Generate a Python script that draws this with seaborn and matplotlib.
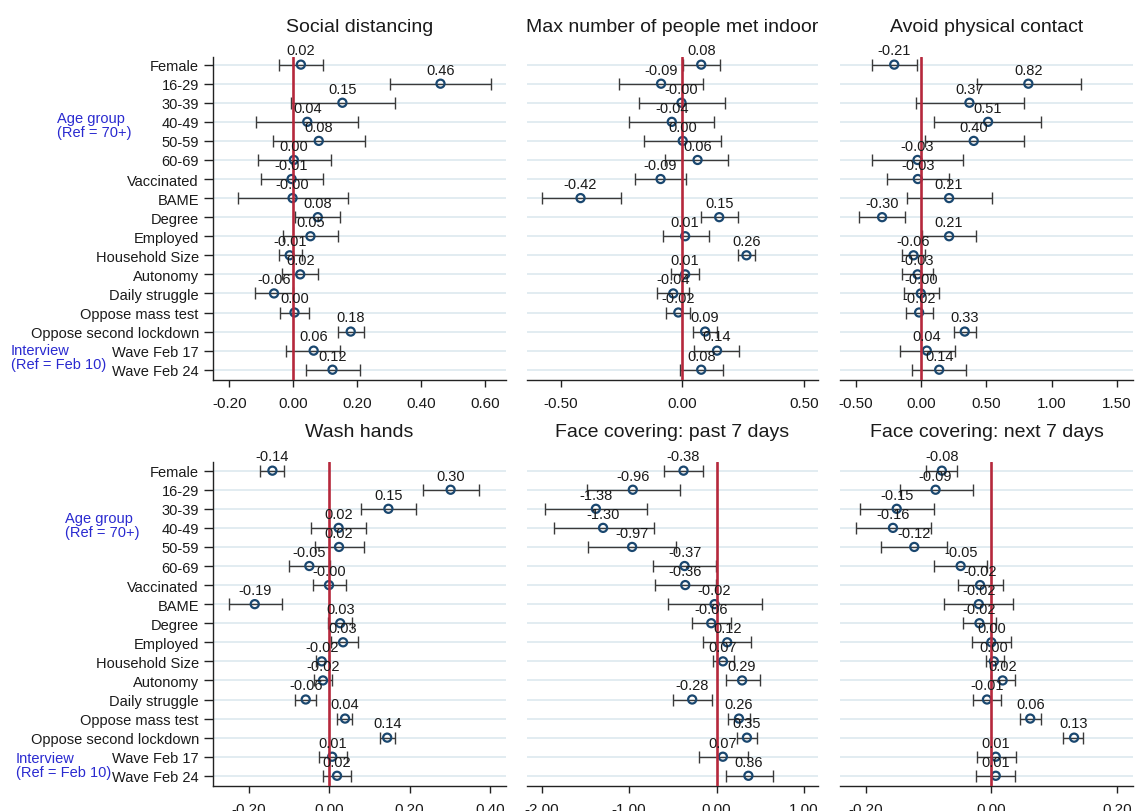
import numpy as np
import pandas as pd
import matplotlib
matplotlib.use("Agg")
import matplotlib.pyplot as plt
import seaborn as sns

# ---- regression estimates (coefficient, lower CI, upper CI) ----
variables = ["Female", "16-29", "30-39", "40-49", "50-59", "60-69", "Vaccinated",
             "BAME", "Degree", "Employed", "Household Size", "Autonomy",
             "Daily struggle", "Oppose mass test", "Oppose second lockdown",
             "Wave Feb 17", "Wave Feb 24"]

outcomes = ["Social distancing", "Max number of people met indoor",
            "Avoid physical contact", "Wash hands",
            "Face covering: past 7 days", "Face covering: next 7 days"]

social_coef = [0.024, 0.461, 0.154, 0.044, 0.080, 0.002, -0.005, -0.002, 0.077,
               0.054, -0.011, 0.022, -0.060, 0.004, 0.180, 0.064, 0.123]
social_lo = [-0.045, 0.304, -0.006, -0.117, -0.062, -0.111, -0.102, -0.174, 0.005,
             -0.031, -0.045, -0.036, -0.120, -0.042, 0.140, -0.021, 0.041]
social_hi = [0.094, 0.619, 0.318, 0.204, 0.224, 0.118, 0.093, 0.170, 0.147,
             0.139, 0.026, 0.078, 0.000, 0.050, 0.223, 0.146, 0.208]

indoor_coef = [0.078, -0.087, -0.003, -0.043, 0.002, 0.063, -0.089, -0.418, 0.152,
               0.012, 0.264, 0.012, -0.037, -0.016, 0.094, 0.143, 0.078]
indoor_lo = [0.003, -0.261, -0.176, -0.220, -0.158, -0.069, -0.196, -0.578, 0.076,
             -0.077, 0.228, -0.047, -0.104, -0.066, 0.045, 0.049, -0.011]
indoor_hi = [0.154, 0.085, 0.174, 0.130, 0.158, 0.188, 0.014, -0.253, 0.231,
             0.108, 0.301, 0.069, 0.026, 0.033, 0.144, 0.232, 0.169]

contact_coef = [-0.207, 0.822, 0.370, 0.513, 0.403, -0.028, -0.026, 0.214, -0.300,
                0.214, -0.059, -0.028, -0.003, -0.016, 0.334, 0.043, 0.138]
contact_lo = [-0.375, 0.426, -0.043, 0.102, 0.028, -0.375, -0.263, -0.112, -0.474,
              0.003, -0.145, -0.145, -0.135, -0.115, 0.255, -0.166, -0.071]
contact_hi = [-0.033, 1.224, 0.786, 0.918, 0.786, 0.321, 0.214, 0.543, -0.125,
              0.421, 0.028, 0.089, 0.138, 0.089, 0.418, 0.258, 0.342]

hands_coef = [-0.142, 0.302, 0.147, 0.023, 0.024, -0.050, -0.001, -0.186, 0.027,
              0.034, -0.019, -0.016, -0.059, 0.039, 0.144, 0.007, 0.019]
hands_lo = [-0.173, 0.232, 0.079, -0.046, -0.037, -0.100, -0.041, -0.250, -0.003,
            0.004, -0.034, -0.038, -0.085, 0.020, 0.127, -0.027, -0.017]
hands_hi = [-0.112, 0.372, 0.216, 0.092, 0.086, 0.002, 0.041, -0.119, 0.056,
            0.071, -0.002, 0.007, -0.033, 0.057, 0.164, 0.043, 0.055]

past7_coef = [-0.378, -0.958, -1.380, -1.298, -0.966, -0.366, -0.358, -0.023, -0.061,
              0.122, 0.073, 0.292, -0.279, 0.256, 0.347, 0.072, 0.364]
past7_lo = [-0.599, -1.485, -1.958, -1.863, -1.469, -0.729, -0.702, -0.553, -0.286,
            -0.156, -0.042, 0.103, -0.500, 0.134, 0.237, -0.202, 0.103]
past7_hi = [-0.153, -0.416, -0.790, -0.718, -0.469, -0.004, -0.011, 0.515, 0.168,
            0.393, 0.195, 0.492, -0.053, 0.382, 0.458, 0.359, 0.641]

next7_coef = [-0.079, -0.089, -0.151, -0.157, -0.123, -0.049, -0.018, -0.020, -0.019,
              0.000, 0.004, 0.018, -0.007, 0.062, 0.132, 0.007, 0.007]
next7_lo = [-0.104, -0.146, -0.210, -0.216, -0.176, -0.091, -0.054, -0.075, -0.046,
            -0.031, -0.009, -0.001, -0.030, 0.045, 0.115, -0.023, -0.024]
next7_hi = [-0.055, -0.029, -0.092, -0.096, -0.070, -0.007, 0.018, 0.034, 0.007,
            0.031, 0.020, 0.037, 0.016, 0.080, 0.147, 0.039, 0.037]

coefs = [social_coef, indoor_coef, contact_coef, hands_coef, past7_coef, next7_coef]
lows = [social_lo, indoor_lo, contact_lo, hands_lo, past7_lo, next7_lo]
highs = [social_hi, indoor_hi, contact_hi, hands_hi, past7_hi, next7_hi]

frames = []
for name, c, lo, hi in zip(outcomes, coefs, lows, highs):
    frames.append(pd.DataFrame({"outcome": name, "variable": variables,
                                "row": np.arange(len(variables)),
                                "coef": c, "lo": lo, "hi": hi}))
df = pd.concat(frames, ignore_index=True)

# ---- axis settings per panel ----
xlims = [(-0.251, 0.666), (-0.638, 0.558), (-0.623, 1.625),
         (-0.290, 0.440), (-2.168, 1.160), (-0.2415, 0.226)]
xticks = [[-0.2, 0.0, 0.2, 0.4, 0.6], [-0.5, 0.0, 0.5], [-0.5, 0.0, 0.5, 1.0, 1.5],
          [-0.2, 0.0, 0.2, 0.4], [-2.0, -1.0, 0.0, 1.0], [-0.2, 0.0, 0.2]]

sns.set_theme(style="white")
plt.rcParams["font.family"] = ["Liberation Sans", "DejaVu Sans"]

NAVY = "#1a476f"
RED = "#b5283c"
GRID = "#dde9ef"
CI_COLOR = "#3a3a3a"
TEXT = "#1a1a1a"
GROUP_BLUE = "#2a2ad0"

W, H = 1137, 812
fig = plt.figure(figsize=(W / 100, H / 100), dpi=100)

col_px = [(213, 506), (527, 818), (840, 1133)]
row_px = [(58, 381), (462.7, 786.7)]
row_margins = [(0.40, 0.54), (0.47, 0.52)]  # (top, bottom) padding in row units

n = len(variables)
for i, name in enumerate(outcomes):
    r, c = divmod(i, 3)
    x0, x1 = col_px[c]
    y0, y1 = row_px[r]
    ax = fig.add_axes([x0 / W, 1 - y1 / H, (x1 - x0) / W, (y1 - y0) / H])
    sub = df[df["outcome"] == name]

    # confidence intervals
    ax.errorbar(sub["coef"], sub["row"],
                xerr=[sub["coef"] - sub["lo"], sub["hi"] - sub["coef"]],
                fmt="none", ecolor=CI_COLOR, elinewidth=1.0, capsize=4.3,
                capthick=1.0, zorder=3)
    # point estimates
    sns.scatterplot(data=sub, x="coef", y="row", ax=ax, marker="o", s=34,
                    facecolors="none", edgecolor=NAVY, linewidth=1.6,
                    zorder=4, legend=False)
    ax.axvline(0, color=RED, lw=1.9, zorder=5)

    for v, yrow in zip(sub["coef"], sub["row"]):
        ax.annotate(f"{v:.2f}", (v, yrow), xytext=(0, 10.2),
                    textcoords="offset points", ha="center", va="center",
                    fontsize=10.5, color=TEXT, zorder=6, annotation_clip=False)

    top_pad, bot_pad = row_margins[r]
    ax.set_xlim(*xlims[i])
    ax.set_ylim(n - 1 + bot_pad, -top_pad)
    ax.set_xticks(xticks[i])
    ax.set_xticklabels([f"{t:.2f}" for t in xticks[i]])
    ax.set_yticks(np.arange(n))
    ax.set_xlabel("")
    ax.set_ylabel("")
    ax.grid(False)
    ax.grid(axis="y", color=GRID, lw=1.2, zorder=0)
    ax.set_axisbelow(True)

    for s in ("top", "right"):
        ax.spines[s].set_visible(False)
    ax.spines["bottom"].set_color("#222222")
    ax.spines["bottom"].set_linewidth(1.0)
    ax.tick_params(axis="x", direction="out", length=5, width=1.0,
                   color="#222222", labelsize=11, pad=6.5, labelcolor=TEXT,
                   bottom=True)
    if c == 0:
        ax.spines["left"].set_color("#222222")
        ax.spines["left"].set_linewidth(1.0)
        ax.set_yticklabels(variables)
        ax.tick_params(axis="y", direction="out", length=6.7, width=1.0,
                       color="#222222", labelsize=10.5, pad=3.5,
                       labelcolor=TEXT, left=True)
    else:
        ax.spines["left"].set_visible(False)
        ax.tick_params(axis="y", length=0, labelleft=False)

    ax.set_title(name, fontsize=14, color=TEXT, pad=18.5)

# group notes beside the coefficient names
fig.text(57 / W, 1 - 126 / H, "Age group\n(Ref = 70+)", color=GROUP_BLUE,
         fontsize=10.5, ha="left", va="center", linespacing=1.0)
fig.text(11 / W, 1 - 358.5 / H, "Interview\n(Ref = Feb 10)", color=GROUP_BLUE,
         fontsize=10.5, ha="left", va="center", linespacing=1.0)
fig.text(65 / W, 1 - 526.5 / H, "Age group\n(Ref = 70+)", color=GROUP_BLUE,
         fontsize=10.5, ha="left", va="center", linespacing=1.0)
fig.text(15.7 / W, 1 - 766.5 / H, "Interview\n(Ref = Feb 10)", color=GROUP_BLUE,
         fontsize=10.5, ha="left", va="center", linespacing=1.0)

fig.savefig("out.png", dpi=100)
